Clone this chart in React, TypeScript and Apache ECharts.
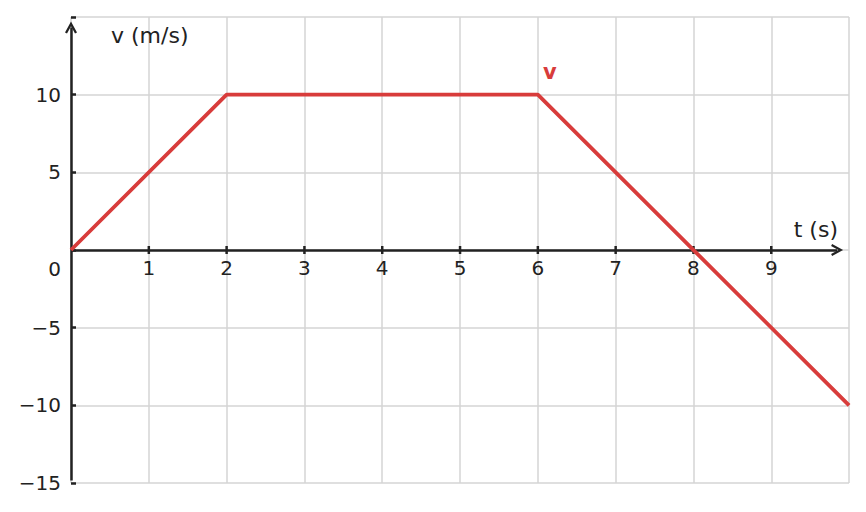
import { useEffect, useRef } from 'react';
import * as echarts from 'echarts';

// v(t) 折线的拐点 [t, v]
const points: [number, number][] = [
  [0, 0],
  [2, 10],
  [6, 10],
  [10, -10],
];
const xTicks = [1, 2, 3, 4, 5, 6, 7, 8, 9];
const yTicks = [-15, -10, -5, 0, 5, 10];

const INK = '#222222';
const RED = '#d83c3b';
const GRID = '#d4d4d4';
// 开口箭头（朝上）
const CHEVRON = 'path://M0,0 L6,10.5 L4,11.5 L0,4.5 L-4,11.5 L-6,10.5 Z';

export default function App() {
  const chartRef = useRef<HTMLDivElement>(null);

  useEffect(() => {
    if (!chartRef.current) return;
    const chart = echarts.init(chartRef.current, null, { renderer: 'svg' });

    const fmtY = (v: number) => {
      if (!yTicks.includes(v)) return '';
      if (v === 0) return '{zero|0}';
      return v < 0 ? '\u2212' + Math.abs(v) : String(v);
    };

    const option: any = {
      animation: false,
      textStyle: { fontFamily: 'DejaVu Sans' },
      // 页面 body 有 8px 外边距
      grid: { left: 63, right: 9, top: 9, bottom: 21, outerBoundsMode: 'none', containLabel: false },
      xAxis: {
        type: 'value',
        min: 0,
        max: 9.999,
        interval: 1,
        name: 't (s)',
        nameLocation: 'end',
        nameGap: -11,
        nameTextStyle: {
          color: INK,
          fontSize: 22,
          align: 'right',
          verticalAlign: 'bottom',
          padding: [0, 0, 9, 0],
        },
        axisLine: { show: false, onZero: true },
        axisTick: { show: false },
        axisLabel: { show: false },
        splitLine: { show: true, lineStyle: { color: GRID, width: 1.5 } },
      },
      yAxis: {
        type: 'value',
        min: -15,
        max: 14.999,
        interval: 5,
        name: 'v (m/s)',
        nameLocation: 'end',
        nameGap: -29,
        nameTextStyle: {
          color: INK,
          fontSize: 22,
          align: 'left',
          padding: [0, 0, 0, 40],
        },
        axisLine: { show: false, onZero: false },
        axisTick: { show: true, inside: true, length: 5, lineStyle: { color: INK, width: 2.5 } },
        axisLabel: {
          color: INK,
          fontSize: 20,
          margin: 10,
          formatter: fmtY,
          rich: { zero: { fontSize: 20, color: INK, padding: [38, 0, 0, 0] } },
        },
        splitLine: { show: true, lineStyle: { color: GRID, width: 1.5 } },
      },
      series: [
        {
          type: 'line',
          data: points,
          showSymbol: false,
          symbol: 'none',
          clip: false,
          z: 5,
          lineStyle: { color: RED, width: 3.8 },
          markPoint: {
            symbol: 'circle',
            symbolSize: 0,
            silent: true,
            label: {
              show: true,
              formatter: 'v',
              offset: [12, -23],
              color: RED,
              fontSize: 21,
              fontWeight: 'bold',
            },
            data: [{ coord: points[2] }],
          },
        },
        {
          // 坐标轴（带箭头）、x 轴刻度线（跨轴线两侧）与刻度文字
          type: 'scatter',
          data: xTicks.map((t) => [t, 0]),
          symbol: 'rect',
          symbolSize: [2.5, 8],
          itemStyle: { color: INK, opacity: 1 },
          label: {
            show: true,
            position: 'bottom',
            distance: 4,
            color: INK,
            fontSize: 20,
            formatter: (p: any) => String(p.value[0]),
          },
          silent: true,
          z: 4,
          markLine: {
            silent: true,
            symbol: ['none', CHEVRON],
            symbolSize: [12, 12],
            label: { show: false },
            lineStyle: { color: INK, width: 2.5, type: 'solid' },
            data: [
              [{ coord: [0, 0] }, { coord: [9.846, 0] }],
              [{ coord: [0, -14.84] }, { coord: [0, 14.32] }],
            ],
          },
        },
      ],
    };

    chart.setOption(option);
    return () => chart.dispose();
  }, []);

  return <div ref={chartRef} style={{ width: 850, height: 496 }} />;
}
